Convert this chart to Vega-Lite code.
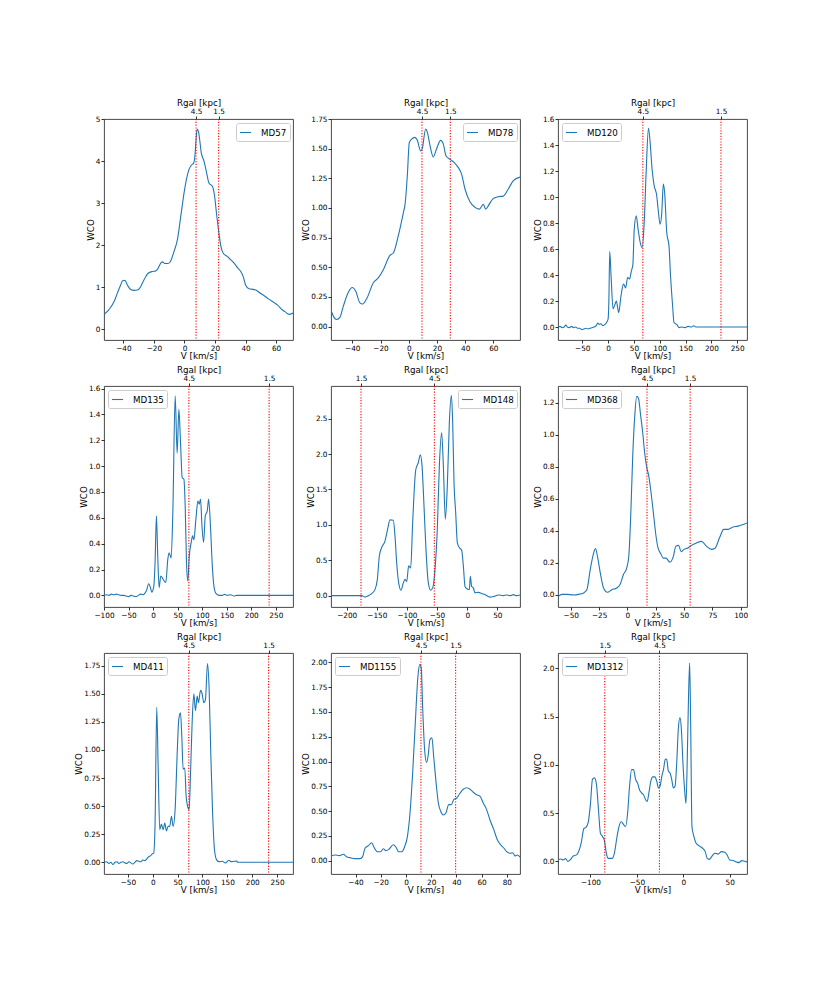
{
"$schema": "https://vega.github.io/schema/vega-lite/v6.json",
"padding": {"left": 74, "top": 97, "right": 5, "bottom": 5},
"background": "white",
"datasets": {
"rgal": [
{"id":"MD57","v":7.6,"r":"4.5"},{"id":"MD57","v":22.4,"r":"1.5"},
{"id":"MD78","v":9.4,"r":"4.5"},{"id":"MD78","v":29.5,"r":"1.5"},
{"id":"MD120","v":67.3,"r":"4.5"},{"id":"MD120","v":218.6,"r":"1.5"},
{"id":"MD135","v":72.9,"r":"4.5"},{"id":"MD135","v":236.4,"r":"1.5"},
{"id":"MD148","v":-176.2,"r":"1.5"},{"id":"MD148","v":-54.5,"r":"4.5"},
{"id":"MD368","v":17.3,"r":"4.5"},{"id":"MD368","v":55.4,"r":"1.5"},
{"id":"MD411","v":72.5,"r":"4.5"},{"id":"MD411","v":232.9,"r":"1.5"},
{"id":"MD1155","v":11.9,"r":"4.5"},{"id":"MD1155","v":39.4,"r":"1.5"},
{"id":"MD1312","v":-84.6,"r":"1.5"},{"id":"MD1312","v":-25.7,"r":"4.5"}
],
"spectra": [
{"id":"MD57","v":-52.7,"w":0.35},{"id":"MD57","v":-50,"w":0.44},{"id":"MD57","v":-48.3,"w":0.52},{"id":"MD57","v":-46,"w":0.66},{"id":"MD57","v":-44,"w":0.85},{"id":"MD57","v":-42,"w":1.03},{"id":"MD57","v":-40.5,"w":1.15},{"id":"MD57","v":-39,"w":1.16},{"id":"MD57","v":-37.4,"w":1.05},{"id":"MD57","v":-35.2,"w":0.94},{"id":"MD57","v":-33,"w":0.92},{"id":"MD57","v":-30.8,"w":0.93},{"id":"MD57","v":-29,"w":0.99},{"id":"MD57","v":-27.6,"w":1.09},{"id":"MD57","v":-25.5,"w":1.24},{"id":"MD57","v":-23.8,"w":1.33},{"id":"MD57","v":-21,"w":1.37},{"id":"MD57","v":-19,"w":1.38},{"id":"MD57","v":-17.7,"w":1.42},{"id":"MD57","v":-15.5,"w":1.57},{"id":"MD57","v":-14.5,"w":1.6},{"id":"MD57","v":-12.9,"w":1.56},{"id":"MD57","v":-10.7,"w":1.56},{"id":"MD57","v":-9,"w":1.62},{"id":"MD57","v":-7.9,"w":1.73},{"id":"MD57","v":-6.8,"w":1.85},{"id":"MD57","v":-4.6,"w":2.13},{"id":"MD57","v":-2.4,"w":2.69},{"id":"MD57","v":0,"w":3.3},{"id":"MD57","v":1.5,"w":3.6},{"id":"MD57","v":3,"w":3.8},{"id":"MD57","v":4.5,"w":3.9},{"id":"MD57","v":6,"w":3.95},{"id":"MD57","v":6.8,"w":4.1},{"id":"MD57","v":7.6,"w":4.5},{"id":"MD57","v":8.3,"w":4.76},{"id":"MD57","v":9.2,"w":4.7},{"id":"MD57","v":10,"w":4.5},{"id":"MD57","v":11,"w":4.2},{"id":"MD57","v":12.8,"w":4.0},{"id":"MD57","v":14.5,"w":3.72},{"id":"MD57","v":16.1,"w":3.47},{"id":"MD57","v":18.3,"w":3.4},{"id":"MD57","v":19.8,"w":3.15},{"id":"MD57","v":21,"w":2.75},{"id":"MD57","v":22.7,"w":2.25},{"id":"MD57","v":24,"w":1.95},{"id":"MD57","v":25.5,"w":1.8},{"id":"MD57","v":28,"w":1.73},{"id":"MD57","v":30,"w":1.66},{"id":"MD57","v":32.5,"w":1.57},{"id":"MD57","v":35,"w":1.45},{"id":"MD57","v":36.9,"w":1.37},{"id":"MD57","v":38.5,"w":1.25},{"id":"MD57","v":40,"w":1.05},{"id":"MD57","v":42.3,"w":0.96},{"id":"MD57","v":44,"w":0.95},{"id":"MD57","v":46.7,"w":0.93},{"id":"MD57","v":49,"w":0.87},{"id":"MD57","v":52,"w":0.8},{"id":"MD57","v":55,"w":0.72},{"id":"MD57","v":58.7,"w":0.63},{"id":"MD57","v":61,"w":0.57},{"id":"MD57","v":64,"w":0.46},{"id":"MD57","v":66,"w":0.41},{"id":"MD57","v":68.5,"w":0.35},{"id":"MD57","v":71.1,"w":0.38},
{"id":"MD78","v":-55.1,"w":0.14},{"id":"MD78","v":-53.5,"w":0.09},{"id":"MD78","v":-51.1,"w":0.06},{"id":"MD78","v":-48.7,"w":0.08},{"id":"MD78","v":-46.4,"w":0.17},{"id":"MD78","v":-42.8,"w":0.29},{"id":"MD78","v":-40,"w":0.33},{"id":"MD78","v":-37.6,"w":0.3},{"id":"MD78","v":-34.6,"w":0.2},{"id":"MD78","v":-32.7,"w":0.19},{"id":"MD78","v":-29.4,"w":0.245},{"id":"MD78","v":-25.1,"w":0.37},{"id":"MD78","v":-21.6,"w":0.41},{"id":"MD78","v":-18,"w":0.48},{"id":"MD78","v":-13.3,"w":0.6},{"id":"MD78","v":-10.9,"w":0.62},{"id":"MD78","v":-7.4,"w":0.765},{"id":"MD78","v":-3.8,"w":0.96},{"id":"MD78","v":-2.6,"w":1.03},{"id":"MD78","v":-1.0,"w":1.27},{"id":"MD78","v":0.4,"w":1.55},{"id":"MD78","v":2.1,"w":1.58},{"id":"MD78","v":4.4,"w":1.595},{"id":"MD78","v":6.1,"w":1.57},{"id":"MD78","v":8.5,"w":1.48},{"id":"MD78","v":9.6,"w":1.5},{"id":"MD78","v":12,"w":1.665},{"id":"MD78","v":13.2,"w":1.64},{"id":"MD78","v":15.1,"w":1.525},{"id":"MD78","v":17.4,"w":1.43},{"id":"MD78","v":19.8,"w":1.5},{"id":"MD78","v":22.6,"w":1.57},{"id":"MD78","v":24.5,"w":1.54},{"id":"MD78","v":26.4,"w":1.44},{"id":"MD78","v":29.3,"w":1.41},{"id":"MD78","v":32.1,"w":1.385},{"id":"MD78","v":35.2,"w":1.34},{"id":"MD78","v":37.5,"w":1.285},{"id":"MD78","v":39.9,"w":1.16},{"id":"MD78","v":43.5,"w":1.05},{"id":"MD78","v":47,"w":1.005},{"id":"MD78","v":50.1,"w":0.99},{"id":"MD78","v":52.9,"w":1.03},{"id":"MD78","v":54.6,"w":0.99},{"id":"MD78","v":56.5,"w":1.02},{"id":"MD78","v":59.5,"w":1.075},{"id":"MD78","v":63.5,"w":1.095},{"id":"MD78","v":67.1,"w":1.1},{"id":"MD78","v":70.6,"w":1.16},{"id":"MD78","v":74.2,"w":1.23},{"id":"MD78","v":78.9,"w":1.26},
{"id":"MD120","v":-97,"w":0},{"id":"MD120","v":-93,"w":0.005},{"id":"MD120","v":-89,"w":-0.005},{"id":"MD120","v":-85,"w":0.0},{"id":"MD120","v":-82,"w":0.015},{"id":"MD120","v":-79,"w":0.0},{"id":"MD120","v":-75,"w":-0.005},{"id":"MD120","v":-71,"w":0.005},{"id":"MD120","v":-67,"w":-0.005},{"id":"MD120","v":-63,"w":0.0},{"id":"MD120","v":-59,"w":-0.01},{"id":"MD120","v":-55,"w":-0.01},{"id":"MD120","v":-51,"w":-0.02},{"id":"MD120","v":-47,"w":-0.015},{"id":"MD120","v":-43,"w":-0.01},{"id":"MD120","v":-39,"w":-0.015},{"id":"MD120","v":-35,"w":-0.01},{"id":"MD120","v":-31,"w":-0.005},{"id":"MD120","v":-27,"w":0.0},{"id":"MD120","v":-23,"w":0.01},{"id":"MD120","v":-20,"w":0.03},{"id":"MD120","v":-17,"w":0.02},{"id":"MD120","v":-14,"w":0.025},{"id":"MD120","v":-10,"w":0.01},{"id":"MD120","v":-6,"w":0.02},{"id":"MD120","v":-3,"w":0.035},{"id":"MD120","v":0,"w":0.06},{"id":"MD120","v":1.5,"w":0.2},{"id":"MD120","v":3.2,"w":0.58},{"id":"MD120","v":5.8,"w":0.39},{"id":"MD120","v":9.6,"w":0.14},{"id":"MD120","v":13,"w":0.17},{"id":"MD120","v":16,"w":0.2},{"id":"MD120","v":18.5,"w":0.15},{"id":"MD120","v":20.5,"w":0.11},{"id":"MD120","v":25,"w":0.24},{"id":"MD120","v":30,"w":0.33},{"id":"MD120","v":34,"w":0.3},{"id":"MD120","v":37.8,"w":0.38},{"id":"MD120","v":41.7,"w":0.37},{"id":"MD120","v":45,"w":0.43},{"id":"MD120","v":48,"w":0.48},{"id":"MD120","v":50.6,"w":0.75},{"id":"MD120","v":54.5,"w":0.855},{"id":"MD120","v":57.7,"w":0.765},{"id":"MD120","v":62.2,"w":0.65},{"id":"MD120","v":66,"w":0.61},{"id":"MD120","v":69.9,"w":0.8},{"id":"MD120","v":73.7,"w":1.19},{"id":"MD120","v":78.2,"w":1.53},{"id":"MD120","v":81.4,"w":1.42},{"id":"MD120","v":85.3,"w":1.21},{"id":"MD120","v":89.1,"w":1.09},{"id":"MD120","v":94.2,"w":1.01},{"id":"MD120","v":96.8,"w":0.91},{"id":"MD120","v":100.6,"w":0.79},{"id":"MD120","v":103.8,"w":0.87},{"id":"MD120","v":107,"w":1.1},{"id":"MD120","v":109.6,"w":1.03},{"id":"MD120","v":113.5,"w":0.73},{"id":"MD120","v":118,"w":0.62},{"id":"MD120","v":121,"w":0.39},{"id":"MD120","v":125,"w":0.16},{"id":"MD120","v":127.6,"w":0.035},{"id":"MD120","v":132.7,"w":0.02},{"id":"MD120","v":137.8,"w":-0.005},{"id":"MD120","v":142,"w":0.0},{"id":"MD120","v":148.7,"w":-0.005},{"id":"MD120","v":155,"w":0.005},{"id":"MD120","v":161.5,"w":0.0},{"id":"MD120","v":166,"w":0.01},{"id":"MD120","v":170,"w":0.0},{"id":"MD120","v":269,"w":0.0},
{"id":"MD135","v":-100,"w":0},{"id":"MD135","v":-95,"w":0.005},{"id":"MD135","v":-90,"w":0},{"id":"MD135","v":-85,"w":0.01},{"id":"MD135","v":-80,"w":0.005},{"id":"MD135","v":-75,"w":0.01},{"id":"MD135","v":-70,"w":0.005},{"id":"MD135","v":-65,"w":0},{"id":"MD135","v":-60,"w":0},{"id":"MD135","v":-55,"w":-0.005},{"id":"MD135","v":-50,"w":-0.01},{"id":"MD135","v":-45,"w":0},{"id":"MD135","v":-40,"w":-0.005},{"id":"MD135","v":-35,"w":-0.01},{"id":"MD135","v":-30,"w":0},{"id":"MD135","v":-25,"w":0.01},{"id":"MD135","v":-20,"w":0.005},{"id":"MD135","v":-17,"w":0.015},{"id":"MD135","v":-13.6,"w":0.035},{"id":"MD135","v":-8.9,"w":0.09},{"id":"MD135","v":-5.4,"w":0.06},{"id":"MD135","v":-2.7,"w":0.025},{"id":"MD135","v":1.4,"w":0.07},{"id":"MD135","v":4,"w":0.25},{"id":"MD135","v":6.8,"w":0.615},{"id":"MD135","v":9.5,"w":0.3},{"id":"MD135","v":12.3,"w":0.06},{"id":"MD135","v":15.7,"w":0.15},{"id":"MD135","v":20.4,"w":0.125},{"id":"MD135","v":25.9,"w":0.1},{"id":"MD135","v":30,"w":0.28},{"id":"MD135","v":32.7,"w":0.33},{"id":"MD135","v":36.8,"w":0.29},{"id":"MD135","v":40.2,"w":0.64},{"id":"MD135","v":45,"w":1.545},{"id":"MD135","v":49,"w":1.1},{"id":"MD135","v":52.5,"w":1.44},{"id":"MD135","v":55.9,"w":1.18},{"id":"MD135","v":59.3,"w":0.91},{"id":"MD135","v":62.7,"w":0.9},{"id":"MD135","v":65.4,"w":0.69},{"id":"MD135","v":68.1,"w":0.25},{"id":"MD135","v":70.8,"w":0.11},{"id":"MD135","v":73.6,"w":0.3},{"id":"MD135","v":77.7,"w":0.41},{"id":"MD135","v":80.4,"w":0.46},{"id":"MD135","v":83.1,"w":0.43},{"id":"MD135","v":87.2,"w":0.59},{"id":"MD135","v":91.3,"w":0.73},{"id":"MD135","v":94,"w":0.705},{"id":"MD135","v":96.7,"w":0.745},{"id":"MD135","v":99.5,"w":0.54},{"id":"MD135","v":102.9,"w":0.41},{"id":"MD135","v":106.3,"w":0.615},{"id":"MD135","v":110.4,"w":0.655},{"id":"MD135","v":113.1,"w":0.745},{"id":"MD135","v":117.2,"w":0.51},{"id":"MD135","v":120.6,"w":0.23},{"id":"MD135","v":124,"w":0.07},{"id":"MD135","v":128,"w":0.015},{"id":"MD135","v":134.2,"w":0},{"id":"MD135","v":141,"w":0},{"id":"MD135","v":145.8,"w":0.008},{"id":"MD135","v":151,"w":0},{"id":"MD135","v":158,"w":0.005},{"id":"MD135","v":164.9,"w":-0.005},{"id":"MD135","v":170,"w":0},{"id":"MD135","v":285,"w":0},
{"id":"MD148","v":-226,"w":0},{"id":"MD148","v":-175,"w":0},{"id":"MD148","v":-169.6,"w":-0.02},{"id":"MD148","v":-164,"w":0},{"id":"MD148","v":-158.5,"w":0.03},{"id":"MD148","v":-153,"w":0.085},{"id":"MD148","v":-149.1,"w":0.23},{"id":"MD148","v":-145.8,"w":0.56},{"id":"MD148","v":-141.9,"w":0.68},{"id":"MD148","v":-136.4,"w":0.77},{"id":"MD148","v":-132,"w":0.94},{"id":"MD148","v":-128.1,"w":1.07},{"id":"MD148","v":-122.6,"w":1.065},{"id":"MD148","v":-119.8,"w":0.84},{"id":"MD148","v":-117,"w":0.46},{"id":"MD148","v":-113.7,"w":0.18},{"id":"MD148","v":-109.8,"w":0.076},{"id":"MD148","v":-106,"w":0.18},{"id":"MD148","v":-103.2,"w":0.23},{"id":"MD148","v":-100.4,"w":0.2},{"id":"MD148","v":-97.1,"w":0.42},{"id":"MD148","v":-93.8,"w":0.39},{"id":"MD148","v":-90.5,"w":1.03},{"id":"MD148","v":-85.5,"w":1.77},{"id":"MD148","v":-81.1,"w":1.88},{"id":"MD148","v":-77.8,"w":1.99},{"id":"MD148","v":-75,"w":1.84},{"id":"MD148","v":-71.7,"w":1.27},{"id":"MD148","v":-68.4,"w":0.65},{"id":"MD148","v":-64.5,"w":0.18},{"id":"MD148","v":-60.6,"w":0.076},{"id":"MD148","v":-57.3,"w":0.11},{"id":"MD148","v":-53.4,"w":0.37},{"id":"MD148","v":-49.6,"w":0.94},{"id":"MD148","v":-46.2,"w":1.84},{"id":"MD148","v":-42.4,"w":2.3},{"id":"MD148","v":-39.6,"w":1.84},{"id":"MD148","v":-36.3,"w":1.08},{"id":"MD148","v":-33,"w":1.55},{"id":"MD148","v":-29.6,"w":2.45},{"id":"MD148","v":-26.3,"w":2.83},{"id":"MD148","v":-24.1,"w":2.45},{"id":"MD148","v":-21.9,"w":1.6},{"id":"MD148","v":-19.1,"w":1.17},{"id":"MD148","v":-16.4,"w":0.75},{"id":"MD148","v":-13.1,"w":0.68},{"id":"MD148","v":-9.2,"w":0.64},{"id":"MD148","v":-6.4,"w":0.42},{"id":"MD148","v":-3.6,"w":0.13},{"id":"MD148","v":0.2,"w":0.095},{"id":"MD148","v":3.5,"w":0.085},{"id":"MD148","v":5.2,"w":0.275},{"id":"MD148","v":7.4,"w":0.13},{"id":"MD148","v":10.2,"w":0.11},{"id":"MD148","v":12.9,"w":0.04},{"id":"MD148","v":18.5,"w":0.047},{"id":"MD148","v":24,"w":0.03},{"id":"MD148","v":29.5,"w":0.015},{"id":"MD148","v":37.8,"w":-0.02},{"id":"MD148","v":44.5,"w":-0.01},{"id":"MD148","v":51.7,"w":0.01},{"id":"MD148","v":60,"w":0},{"id":"MD148","v":65.5,"w":0.01},{"id":"MD148","v":71,"w":0},{"id":"MD148","v":76.5,"w":0.015},{"id":"MD148","v":82,"w":0},{"id":"MD148","v":87.6,"w":0.01},
{"id":"MD368","v":-61.3,"w":-0.01},{"id":"MD368","v":-57.8,"w":0.004},{"id":"MD368","v":-53.4,"w":0.004},{"id":"MD368","v":-47.5,"w":0.0},{"id":"MD368","v":-43.1,"w":0.004},{"id":"MD368","v":-38.7,"w":0.013},{"id":"MD368","v":-35.8,"w":0.033},{"id":"MD368","v":-32.8,"w":0.16},{"id":"MD368","v":-29.9,"w":0.26},{"id":"MD368","v":-28.2,"w":0.29},{"id":"MD368","v":-26.4,"w":0.24},{"id":"MD368","v":-24,"w":0.14},{"id":"MD368","v":-21.1,"w":0.044},{"id":"MD368","v":-17.6,"w":0.017},{"id":"MD368","v":-13.8,"w":0.033},{"id":"MD368","v":-9.4,"w":0.044},{"id":"MD368","v":-6.5,"w":0.065},{"id":"MD368","v":-3.5,"w":0.128},{"id":"MD368","v":-0.6,"w":0.17},{"id":"MD368","v":1.2,"w":0.24},{"id":"MD368","v":2.9,"w":0.49},{"id":"MD368","v":4.7,"w":0.87},{"id":"MD368","v":6.5,"w":1.12},{"id":"MD368","v":8.2,"w":1.24},{"id":"MD368","v":9.7,"w":1.23},{"id":"MD368","v":11.7,"w":1.12},{"id":"MD368","v":13.5,"w":1.015},{"id":"MD368","v":15.2,"w":0.89},{"id":"MD368","v":17,"w":0.8},{"id":"MD368","v":18.8,"w":0.745},{"id":"MD368","v":20.5,"w":0.66},{"id":"MD368","v":22.9,"w":0.515},{"id":"MD368","v":25.2,"w":0.37},{"id":"MD368","v":27,"w":0.295},{"id":"MD368","v":29.3,"w":0.26},{"id":"MD368","v":31.7,"w":0.23},{"id":"MD368","v":34,"w":0.23},{"id":"MD368","v":37.5,"w":0.205},{"id":"MD368","v":40.5,"w":0.24},{"id":"MD368","v":42.8,"w":0.305},{"id":"MD368","v":45.2,"w":0.31},{"id":"MD368","v":47.5,"w":0.27},{"id":"MD368","v":49.9,"w":0.285},{"id":"MD368","v":53.7,"w":0.295},{"id":"MD368","v":56.6,"w":0.31},{"id":"MD368","v":61,"w":0.325},{"id":"MD368","v":65.4,"w":0.335},{"id":"MD368","v":69.8,"w":0.305},{"id":"MD368","v":74.2,"w":0.285},{"id":"MD368","v":77.1,"w":0.29},{"id":"MD368","v":81.5,"w":0.36},{"id":"MD368","v":85,"w":0.41},{"id":"MD368","v":88.9,"w":0.41},{"id":"MD368","v":93.3,"w":0.425},{"id":"MD368","v":97.7,"w":0.43},{"id":"MD368","v":102.1,"w":0.44},{"id":"MD368","v":105.6,"w":0.45},
{"id":"MD411","v":-98,"w":0},{"id":"MD411","v":-93,"w":0.005},{"id":"MD411","v":-88,"w":-0.01},{"id":"MD411","v":-84,"w":0},{"id":"MD411","v":-80,"w":-0.02},{"id":"MD411","v":-76,"w":0},{"id":"MD411","v":-72,"w":0.005},{"id":"MD411","v":-68,"w":-0.01},{"id":"MD411","v":-64,"w":0},{"id":"MD411","v":-60,"w":0.005},{"id":"MD411","v":-56,"w":-0.005},{"id":"MD411","v":-52,"w":-0.01},{"id":"MD411","v":-48,"w":0.005},{"id":"MD411","v":-44,"w":-0.005},{"id":"MD411","v":-40,"w":-0.015},{"id":"MD411","v":-36,"w":0},{"id":"MD411","v":-32,"w":0.015},{"id":"MD411","v":-28,"w":0.01},{"id":"MD411","v":-24,"w":0.005},{"id":"MD411","v":-20,"w":0.02},{"id":"MD411","v":-16,"w":0.015},{"id":"MD411","v":-12,"w":0.03},{"id":"MD411","v":-8,"w":0.05},{"id":"MD411","v":-4,"w":0.06},{"id":"MD411","v":-1,"w":0.075},{"id":"MD411","v":2,"w":0.083},{"id":"MD411","v":4.7,"w":0.35},{"id":"MD411","v":8,"w":1.38},{"id":"MD411","v":10.7,"w":0.89},{"id":"MD411","v":14.1,"w":0.29},{"id":"MD411","v":17.4,"w":0.34},{"id":"MD411","v":20.8,"w":0.29},{"id":"MD411","v":24.2,"w":0.35},{"id":"MD411","v":27.5,"w":0.28},{"id":"MD411","v":30.9,"w":0.32},{"id":"MD411","v":34.2,"w":0.32},{"id":"MD411","v":37.6,"w":0.41},{"id":"MD411","v":40.9,"w":0.32},{"id":"MD411","v":45,"w":0.47},{"id":"MD411","v":49,"w":0.95},{"id":"MD411","v":52.3,"w":1.27},{"id":"MD411","v":55.7,"w":1.33},{"id":"MD411","v":58.4,"w":1.125},{"id":"MD411","v":61.1,"w":0.83},{"id":"MD411","v":64.4,"w":0.84},{"id":"MD411","v":67.1,"w":0.59},{"id":"MD411","v":69.8,"w":0.505},{"id":"MD411","v":73.2,"w":0.47},{"id":"MD411","v":75.8,"w":0.77},{"id":"MD411","v":79.2,"w":1.245},{"id":"MD411","v":82.6,"w":1.5},{"id":"MD411","v":85.9,"w":1.35},{"id":"MD411","v":89.3,"w":1.48},{"id":"MD411","v":91.9,"w":1.42},{"id":"MD411","v":96,"w":1.53},{"id":"MD411","v":99.3,"w":1.5},{"id":"MD411","v":102.7,"w":1.42},{"id":"MD411","v":106,"w":1.45},{"id":"MD411","v":110.1,"w":1.77},{"id":"MD411","v":113.4,"w":1.54},{"id":"MD411","v":116.8,"w":0.95},{"id":"MD411","v":120.1,"w":0.47},{"id":"MD411","v":124.2,"w":0.11},{"id":"MD411","v":128.2,"w":0.024},{"id":"MD411","v":132.9,"w":0.006},{"id":"MD411","v":139.6,"w":0.009},{"id":"MD411","v":146.3,"w":-0.006},{"id":"MD411","v":153,"w":0.018},{"id":"MD411","v":157.7,"w":0.006},{"id":"MD411","v":163,"w":0.009},{"id":"MD411","v":168.5,"w":0.012},{"id":"MD411","v":171,"w":0},{"id":"MD411","v":282,"w":0},
{"id":"MD1155","v":-59.5,"w":0.047},{"id":"MD1155","v":-56.3,"w":0.057},{"id":"MD1155","v":-52.9,"w":0.05},{"id":"MD1155","v":-49.7,"w":0.064},{"id":"MD1155","v":-47.1,"w":0.04},{"id":"MD1155","v":-44.4,"w":0.03},{"id":"MD1155","v":-40.5,"w":0.02},{"id":"MD1155","v":-36.5,"w":0.02},{"id":"MD1155","v":-34.4,"w":0.04},{"id":"MD1155","v":-32.5,"w":0.125},{"id":"MD1155","v":-29.9,"w":0.15},{"id":"MD1155","v":-27.2,"w":0.18},{"id":"MD1155","v":-25.4,"w":0.135},{"id":"MD1155","v":-22.8,"w":0.09},{"id":"MD1155","v":-20.1,"w":0.09},{"id":"MD1155","v":-18,"w":0.12},{"id":"MD1155","v":-15.9,"w":0.1},{"id":"MD1155","v":-13.5,"w":0.115},{"id":"MD1155","v":-10.1,"w":0.16},{"id":"MD1155","v":-7.9,"w":0.135},{"id":"MD1155","v":-5.8,"w":0.09},{"id":"MD1155","v":-3.2,"w":0.09},{"id":"MD1155","v":-1.1,"w":0.14},{"id":"MD1155","v":1.1,"w":0.24},{"id":"MD1155","v":3.2,"w":0.48},{"id":"MD1155","v":5.3,"w":0.885},{"id":"MD1155","v":7.4,"w":1.39},{"id":"MD1155","v":9.5,"w":1.86},{"id":"MD1155","v":11.1,"w":1.98},{"id":"MD1155","v":12.2,"w":1.93},{"id":"MD1155","v":13.2,"w":1.56},{"id":"MD1155","v":14.8,"w":1.12},{"id":"MD1155","v":16.4,"w":0.99},{"id":"MD1155","v":17.7,"w":1.07},{"id":"MD1155","v":19,"w":1.22},{"id":"MD1155","v":20.6,"w":1.24},{"id":"MD1155","v":22,"w":1.05},{"id":"MD1155","v":23.8,"w":0.8},{"id":"MD1155","v":25.7,"w":0.58},{"id":"MD1155","v":27.5,"w":0.5},{"id":"MD1155","v":29.6,"w":0.46},{"id":"MD1155","v":31.7,"w":0.48},{"id":"MD1155","v":33.9,"w":0.565},{"id":"MD1155","v":36,"w":0.565},{"id":"MD1155","v":38.1,"w":0.62},{"id":"MD1155","v":40.2,"w":0.63},{"id":"MD1155","v":42.9,"w":0.68},{"id":"MD1155","v":45.5,"w":0.72},{"id":"MD1155","v":48.1,"w":0.735},{"id":"MD1155","v":50.8,"w":0.72},{"id":"MD1155","v":53.4,"w":0.69},{"id":"MD1155","v":56.1,"w":0.665},{"id":"MD1155","v":58.7,"w":0.65},{"id":"MD1155","v":61.4,"w":0.58},{"id":"MD1155","v":64,"w":0.515},{"id":"MD1155","v":66.7,"w":0.41},{"id":"MD1155","v":69.8,"w":0.31},{"id":"MD1155","v":72.5,"w":0.21},{"id":"MD1155","v":75.1,"w":0.16},{"id":"MD1155","v":77.8,"w":0.125},{"id":"MD1155","v":79.9,"w":0.09},{"id":"MD1155","v":82.5,"w":0.074},{"id":"MD1155","v":84.7,"w":0.08},{"id":"MD1155","v":86.5,"w":0.047},{"id":"MD1155","v":88.4,"w":0.057},{"id":"MD1155","v":90.5,"w":0.034},
{"id":"MD1312","v":-135,"w":0.014},{"id":"MD1312","v":-132.1,"w":0.024},{"id":"MD1312","v":-129.3,"w":0.014},{"id":"MD1312","v":-126.8,"w":0.028},{"id":"MD1312","v":-124.3,"w":-0.003},{"id":"MD1312","v":-121.4,"w":0.02},{"id":"MD1312","v":-118.6,"w":0.055},{"id":"MD1312","v":-115,"w":0.066},{"id":"MD1312","v":-112.1,"w":0.118},{"id":"MD1312","v":-110,"w":0.19},{"id":"MD1312","v":-107.1,"w":0.34},{"id":"MD1312","v":-105,"w":0.35},{"id":"MD1312","v":-102.5,"w":0.4},{"id":"MD1312","v":-100,"w":0.6},{"id":"MD1312","v":-97.9,"w":0.85},{"id":"MD1312","v":-95.7,"w":0.865},{"id":"MD1312","v":-93.6,"w":0.8},{"id":"MD1312","v":-91.4,"w":0.535},{"id":"MD1312","v":-89.3,"w":0.29},{"id":"MD1312","v":-87.1,"w":0.257},{"id":"MD1312","v":-85,"w":0.215},{"id":"MD1312","v":-82.9,"w":0.083},{"id":"MD1312","v":-80.7,"w":0.03},{"id":"MD1312","v":-76.8,"w":0.03},{"id":"MD1312","v":-74.3,"w":0.083},{"id":"MD1312","v":-71.4,"w":0.257},{"id":"MD1312","v":-69.3,"w":0.36},{"id":"MD1312","v":-66.8,"w":0.41},{"id":"MD1312","v":-64.3,"w":0.38},{"id":"MD1312","v":-62.1,"w":0.36},{"id":"MD1312","v":-60,"w":0.5},{"id":"MD1312","v":-57.9,"w":0.78},{"id":"MD1312","v":-55.7,"w":0.95},{"id":"MD1312","v":-53.6,"w":0.95},{"id":"MD1312","v":-51.4,"w":0.85},{"id":"MD1312","v":-49.3,"w":0.81},{"id":"MD1312","v":-47.1,"w":0.74},{"id":"MD1312","v":-45,"w":0.71},{"id":"MD1312","v":-42.9,"w":0.69},{"id":"MD1312","v":-40.7,"w":0.64},{"id":"MD1312","v":-38.9,"w":0.62},{"id":"MD1312","v":-37.1,"w":0.71},{"id":"MD1312","v":-35,"w":0.83},{"id":"MD1312","v":-32.9,"w":0.875},{"id":"MD1312","v":-30.7,"w":0.875},{"id":"MD1312","v":-28.6,"w":0.83},{"id":"MD1312","v":-26.8,"w":0.76},{"id":"MD1312","v":-25,"w":0.78},{"id":"MD1312","v":-23.2,"w":0.88},{"id":"MD1312","v":-21.4,"w":0.95},{"id":"MD1312","v":-19.3,"w":1.06},{"id":"MD1312","v":-17.9,"w":1.055},{"id":"MD1312","v":-16.1,"w":0.935},{"id":"MD1312","v":-14.3,"w":0.915},{"id":"MD1312","v":-12.5,"w":0.85},{"id":"MD1312","v":-10.7,"w":0.76},{"id":"MD1312","v":-8.9,"w":0.78},{"id":"MD1312","v":-7.1,"w":1.02},{"id":"MD1312","v":-5.4,"w":1.37},{"id":"MD1312","v":-3.6,"w":1.49},{"id":"MD1312","v":-2.1,"w":1.37},{"id":"MD1312","v":-0.4,"w":1.02},{"id":"MD1312","v":1.4,"w":0.74},{"id":"MD1312","v":2.9,"w":0.6},{"id":"MD1312","v":4.3,"w":1.09},{"id":"MD1312","v":5.4,"w":1.61},{"id":"MD1312","v":6.8,"w":2.055},{"id":"MD1312","v":7.9,"w":1.44},{"id":"MD1312","v":9.3,"w":0.36},{"id":"MD1312","v":11.4,"w":0.257},{"id":"MD1312","v":13.6,"w":0.19},{"id":"MD1312","v":17.1,"w":0.16},{"id":"MD1312","v":20.7,"w":0.135},{"id":"MD1312","v":23.6,"w":0.1},{"id":"MD1312","v":25.7,"w":0.03},{"id":"MD1312","v":27.9,"w":0.02},{"id":"MD1312","v":30.7,"w":0.05},{"id":"MD1312","v":33.9,"w":0.083},{"id":"MD1312","v":37.5,"w":0.076},{"id":"MD1312","v":41.1,"w":0.1},{"id":"MD1312","v":44.6,"w":0.094},{"id":"MD1312","v":47.1,"w":0.066},{"id":"MD1312","v":50,"w":0.014},{"id":"MD1312","v":53.6,"w":0.007},{"id":"MD1312","v":57.1,"w":-0.007},{"id":"MD1312","v":60,"w":-0.014},{"id":"MD1312","v":62.9,"w":0.007},{"id":"MD1312","v":66.1,"w":0},{"id":"MD1312","v":68.6,"w":-0.007}
]
},
"columns": 3,
"spacing": {"row": 46, "column": 38},
"bounds": "flush",
"resolve": {"scale": {"x": "independent", "y": "independent", "color": "independent"}, "legend": {"color": "independent"}},
"concat": [
{"width": 189, "height": 221, "resolve": {"axis": {"x": "independent"}}, "layer": [
 {"data": {"name": "spectra"}, "transform": [{"filter": "datum.id === 'MD57'"}], "mark": {"type": "line", "interpolate": "monotone", "strokeWidth": 1.1, "clip": true},
  "encoding": {"x": {"field": "v", "type": "quantitative", "scale": {"domain": [-52.7, 71.1], "nice": false, "zero": false}, "axis": {"orient": "bottom", "title": "V [km/s]", "values": [-40,-20,0,20,40,60], "format": "d"}},
   "y": {"field": "w", "type": "quantitative", "scale": {"domain": [-0.26, 5.0], "nice": false, "zero": false}, "axis": {"title": "WCO", "values": [0,1,2,3,4,5], "format": "d"}},
   "color": {"field": "id", "type": "nominal", "scale": {"range": ["#1f77b4"]}, "legend": {"title": null, "orient": "top-right"}}}},
 {"data": {"name": "rgal"}, "transform": [{"filter": "datum.id === 'MD57'"}], "mark": {"type": "rule", "color": "red", "strokeDash": [1.2, 1.6], "strokeWidth": 1.1},
  "encoding": {"x": {"field": "v", "type": "quantitative", "scale": {"domain": [-52.7, 71.1], "nice": false, "zero": false}, "axis": {"orient": "top", "title": "Rgal [kpc]", "values": [7.6, 22.4], "labelExpr": "datum.value == 7.6 ? '4.5' : '1.5'"}}}}
]},
{"width": 189, "height": 221, "resolve": {"axis": {"x": "independent"}}, "layer": [
 {"data": {"name": "spectra"}, "transform": [{"filter": "datum.id === 'MD78'"}], "mark": {"type": "line", "interpolate": "monotone", "strokeWidth": 1.1, "clip": true},
  "encoding": {"x": {"field": "v", "type": "quantitative", "scale": {"domain": [-55.1, 78.9], "nice": false, "zero": false}, "axis": {"orient": "bottom", "title": "V [km/s]", "values": [-40,-20,0,20,40,60], "format": "d"}},
   "y": {"field": "w", "type": "quantitative", "scale": {"domain": [-0.113, 1.75], "nice": false, "zero": false}, "axis": {"title": "WCO", "values": [0,0.25,0.5,0.75,1,1.25,1.5,1.75], "format": ".2f"}},
   "color": {"field": "id", "type": "nominal", "scale": {"range": ["#1f77b4"]}, "legend": {"title": null, "orient": "top-right"}}}},
 {"data": {"name": "rgal"}, "transform": [{"filter": "datum.id === 'MD78'"}], "mark": {"type": "rule", "color": "red", "strokeDash": [1.2, 1.6], "strokeWidth": 1.1},
  "encoding": {"x": {"field": "v", "type": "quantitative", "scale": {"domain": [-55.1, 78.9], "nice": false, "zero": false}, "axis": {"orient": "top", "title": "Rgal [kpc]", "values": [9.4, 29.5], "labelExpr": "datum.value == 9.4 ? '4.5' : '1.5'"}}}}
]},
{"width": 189, "height": 221, "resolve": {"axis": {"x": "independent"}}, "layer": [
 {"data": {"name": "spectra"}, "transform": [{"filter": "datum.id === 'MD120'"}], "mark": {"type": "line", "interpolate": "monotone", "strokeWidth": 1.1, "clip": true},
  "encoding": {"x": {"field": "v", "type": "quantitative", "scale": {"domain": [-97, 269], "nice": false, "zero": false}, "axis": {"orient": "bottom", "title": "V [km/s]", "values": [-50,0,50,100,150,200,250], "format": "d"}},
   "y": {"field": "w", "type": "quantitative", "scale": {"domain": [-0.1, 1.6], "nice": false, "zero": false}, "axis": {"title": "WCO", "values": [0,0.2,0.4,0.6,0.8,1,1.2,1.4,1.6], "format": ".1f"}},
   "color": {"field": "id", "type": "nominal", "scale": {"range": ["#1f77b4"]}, "legend": {"title": null, "orient": "top-left"}}}},
 {"data": {"name": "rgal"}, "transform": [{"filter": "datum.id === 'MD120'"}], "mark": {"type": "rule", "color": "red", "strokeDash": [1.2, 1.6], "strokeWidth": 1.1},
  "encoding": {"x": {"field": "v", "type": "quantitative", "scale": {"domain": [-97, 269], "nice": false, "zero": false}, "axis": {"orient": "top", "title": "Rgal [kpc]", "values": [67.3, 218.6], "labelExpr": "datum.value == 67.3 ? '4.5' : '1.5'"}}}}
]},
{"width": 189, "height": 221, "resolve": {"axis": {"x": "independent"}}, "layer": [
 {"data": {"name": "spectra"}, "transform": [{"filter": "datum.id === 'MD135'"}], "mark": {"type": "line", "interpolate": "monotone", "strokeWidth": 1.1, "clip": true},
  "encoding": {"x": {"field": "v", "type": "quantitative", "scale": {"domain": [-100, 285], "nice": false, "zero": false}, "axis": {"orient": "bottom", "title": "V [km/s]", "values": [-100,-50,0,50,100,150,200,250], "format": "d"}},
   "y": {"field": "w", "type": "quantitative", "scale": {"domain": [-0.09, 1.62], "nice": false, "zero": false}, "axis": {"title": "WCO", "values": [0,0.2,0.4,0.6,0.8,1,1.2,1.4,1.6], "format": ".1f"}},
   "color": {"field": "id", "type": "nominal", "scale": {"range": ["#1f77b4"]}, "legend": {"title": null, "orient": "top-left"}}}},
 {"data": {"name": "rgal"}, "transform": [{"filter": "datum.id === 'MD135'"}], "mark": {"type": "rule", "color": "red", "strokeDash": [1.2, 1.6], "strokeWidth": 1.1},
  "encoding": {"x": {"field": "v", "type": "quantitative", "scale": {"domain": [-100, 285], "nice": false, "zero": false}, "axis": {"orient": "top", "title": "Rgal [kpc]", "values": [72.9, 236.4], "labelExpr": "datum.value == 72.9 ? '4.5' : '1.5'"}}}}
]},
{"width": 189, "height": 221, "resolve": {"axis": {"x": "independent"}}, "layer": [
 {"data": {"name": "spectra"}, "transform": [{"filter": "datum.id === 'MD148'"}], "mark": {"type": "line", "interpolate": "monotone", "strokeWidth": 1.1, "clip": true},
  "encoding": {"x": {"field": "v", "type": "quantitative", "scale": {"domain": [-226, 87.6], "nice": false, "zero": false}, "axis": {"orient": "bottom", "title": "V [km/s]", "values": [-200,-150,-100,-50,0,50], "format": "d"}},
   "y": {"field": "w", "type": "quantitative", "scale": {"domain": [-0.16, 2.96], "nice": false, "zero": false}, "axis": {"title": "WCO", "values": [0,0.5,1,1.5,2,2.5], "format": ".1f"}},
   "color": {"field": "id", "type": "nominal", "scale": {"range": ["#1f77b4"]}, "legend": {"title": null, "orient": "top-right"}}}},
 {"data": {"name": "rgal"}, "transform": [{"filter": "datum.id === 'MD148'"}], "mark": {"type": "rule", "color": "red", "strokeDash": [1.2, 1.6], "strokeWidth": 1.1},
  "encoding": {"x": {"field": "v", "type": "quantitative", "scale": {"domain": [-226, 87.6], "nice": false, "zero": false}, "axis": {"orient": "top", "title": "Rgal [kpc]", "values": [-176.2, -54.5], "labelExpr": "datum.value == -54.5 ? '4.5' : '1.5'"}}}}
]},
{"width": 189, "height": 221, "resolve": {"axis": {"x": "independent"}}, "layer": [
 {"data": {"name": "spectra"}, "transform": [{"filter": "datum.id === 'MD368'"}], "mark": {"type": "line", "interpolate": "monotone", "strokeWidth": 1.1, "clip": true},
  "encoding": {"x": {"field": "v", "type": "quantitative", "scale": {"domain": [-61.3, 105.6], "nice": false, "zero": false}, "axis": {"orient": "bottom", "title": "V [km/s]", "values": [-50,-25,0,25,50,75,100], "format": "d"}},
   "y": {"field": "w", "type": "quantitative", "scale": {"domain": [-0.075, 1.305], "nice": false, "zero": false}, "axis": {"title": "WCO", "values": [0,0.2,0.4,0.6,0.8,1,1.2], "format": ".1f"}},
   "color": {"field": "id", "type": "nominal", "scale": {"range": ["#1f77b4"]}, "legend": {"title": null, "orient": "top-left"}}}},
 {"data": {"name": "rgal"}, "transform": [{"filter": "datum.id === 'MD368'"}], "mark": {"type": "rule", "color": "red", "strokeDash": [1.2, 1.6], "strokeWidth": 1.1},
  "encoding": {"x": {"field": "v", "type": "quantitative", "scale": {"domain": [-61.3, 105.6], "nice": false, "zero": false}, "axis": {"orient": "top", "title": "Rgal [kpc]", "values": [17.3, 55.4], "labelExpr": "datum.value == 17.3 ? '4.5' : '1.5'"}}}}
]},
{"width": 189, "height": 221, "resolve": {"axis": {"x": "independent"}}, "layer": [
 {"data": {"name": "spectra"}, "transform": [{"filter": "datum.id === 'MD411'"}], "mark": {"type": "line", "interpolate": "monotone", "strokeWidth": 1.1, "clip": true},
  "encoding": {"x": {"field": "v", "type": "quantitative", "scale": {"domain": [-98, 282], "nice": false, "zero": false}, "axis": {"orient": "bottom", "title": "V [km/s]", "values": [-50,0,50,100,150,200,250], "format": "d"}},
   "y": {"field": "w", "type": "quantitative", "scale": {"domain": [-0.104, 1.863], "nice": false, "zero": false}, "axis": {"title": "WCO", "values": [0,0.25,0.5,0.75,1,1.25,1.5,1.75], "format": ".2f"}},
   "color": {"field": "id", "type": "nominal", "scale": {"range": ["#1f77b4"]}, "legend": {"title": null, "orient": "top-left"}}}},
 {"data": {"name": "rgal"}, "transform": [{"filter": "datum.id === 'MD411'"}], "mark": {"type": "rule", "color": "red", "strokeDash": [1.2, 1.6], "strokeWidth": 1.1},
  "encoding": {"x": {"field": "v", "type": "quantitative", "scale": {"domain": [-98, 282], "nice": false, "zero": false}, "axis": {"orient": "top", "title": "Rgal [kpc]", "values": [72.5, 232.9], "labelExpr": "datum.value == 72.5 ? '4.5' : '1.5'"}}}}
]},
{"width": 189, "height": 221, "resolve": {"axis": {"x": "independent"}}, "layer": [
 {"data": {"name": "spectra"}, "transform": [{"filter": "datum.id === 'MD1155'"}], "mark": {"type": "line", "interpolate": "monotone", "strokeWidth": 1.1, "clip": true},
  "encoding": {"x": {"field": "v", "type": "quantitative", "scale": {"domain": [-59.5, 90.5], "nice": false, "zero": false}, "axis": {"orient": "bottom", "title": "V [km/s]", "values": [-40,-20,0,20,40,60,80], "format": "d"}},
   "y": {"field": "w", "type": "quantitative", "scale": {"domain": [-0.135, 2.095], "nice": false, "zero": false}, "axis": {"title": "WCO", "values": [0,0.25,0.5,0.75,1,1.25,1.5,1.75,2], "format": ".2f"}},
   "color": {"field": "id", "type": "nominal", "scale": {"range": ["#1f77b4"]}, "legend": {"title": null, "orient": "top-left"}}}},
 {"data": {"name": "rgal"}, "transform": [{"filter": "datum.id === 'MD1155'"}], "mark": {"type": "rule", "color": "red", "strokeDash": [1.2, 1.6], "strokeWidth": 1.1},
  "encoding": {"x": {"field": "v", "type": "quantitative", "scale": {"domain": [-59.5, 90.5], "nice": false, "zero": false}, "axis": {"orient": "top", "title": "Rgal [kpc]", "values": [11.9, 39.4], "labelExpr": "datum.value == 11.9 ? '4.5' : '1.5'"}}}}
]},
{"width": 189, "height": 221, "resolve": {"axis": {"x": "independent"}}, "layer": [
 {"data": {"name": "spectra"}, "transform": [{"filter": "datum.id === 'MD1312'"}], "mark": {"type": "line", "interpolate": "monotone", "strokeWidth": 1.1, "clip": true},
  "encoding": {"x": {"field": "v", "type": "quantitative", "scale": {"domain": [-135, 68.6], "nice": false, "zero": false}, "axis": {"orient": "bottom", "title": "V [km/s]", "values": [-100,-50,0,50], "format": "d"}},
   "y": {"field": "w", "type": "quantitative", "scale": {"domain": [-0.132, 2.16], "nice": false, "zero": false}, "axis": {"title": "WCO", "values": [0,0.5,1,1.5,2], "format": ".1f"}},
   "color": {"field": "id", "type": "nominal", "scale": {"range": ["#1f77b4"]}, "legend": {"title": null, "orient": "top-left"}}}},
 {"data": {"name": "rgal"}, "transform": [{"filter": "datum.id === 'MD1312'"}], "mark": {"type": "rule", "color": "red", "strokeDash": [1.2, 1.6], "strokeWidth": 1.1},
  "encoding": {"x": {"field": "v", "type": "quantitative", "scale": {"domain": [-135, 68.6], "nice": false, "zero": false}, "axis": {"orient": "top", "title": "Rgal [kpc]", "values": [-84.6, -25.7], "labelExpr": "datum.value == -25.7 ? '4.5' : '1.5'"}}}}
]}
],
"config": {
 "font": "DejaVu Sans",
 "view": {"stroke": "#333", "strokeWidth": 0.9},
 "axis": {"domain": false, "grid": false, "ticks": true, "tickColor": "#000", "tickSize": 3, "tickWidth": 0.8, "labelFont": "DejaVu Sans", "labelFontSize": 7.3, "labelColor": "#000", "labelPadding": 1, "titleFont": "DejaVu Sans", "titleFontSize": 8.7, "titleFontWeight": "normal", "titleColor": "#000", "titlePadding": 0, "labelFlush": false, "labelOverlap": false},
 "legend": {"symbolType": "stroke", "symbolSize": 121, "symbolStrokeWidth": 1.1, "labelFont": "DejaVu Sans", "labelFontSize": 8.7, "labelColor": "#000", "padding": 3, "offset": 3.5, "strokeColor": "#cccccc", "fillColor": "white", "cornerRadius": 2, "labelOffset": 9}
}
}
